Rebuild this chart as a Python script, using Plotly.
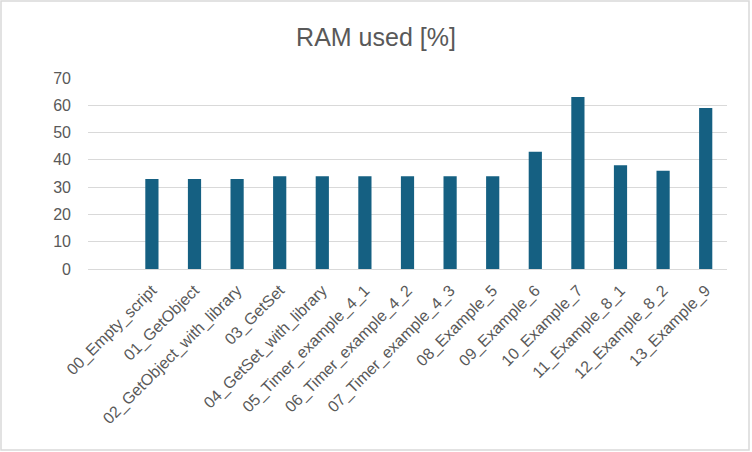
import plotly.graph_objects as go

categories = [
    "00_Empty_script", "01_GetObject", "02_GetObject_with_library", "03_GetSet",
    "04_GetSet_with_library", "05_Timer_example_4_1", "06_Timer_example_4_2",
    "07_Timer_example_4_3", "08_Example_5", "09_Example_6", "10_Example_7",
    "11_Example_8_1", "12_Example_8_2", "13_Example_9",
]
ram_used = [33, 33, 33, 34, 34, 34, 34, 34, 34, 43, 63, 38, 36, 59]
y_ticks = [0, 10, 20, 30, 40, 50, 60, 70]

grey = "#595959"
font_family = "Liberation Sans, Arial, sans-serif"

fig = go.Figure(
    go.Bar(x=categories, y=ram_used, marker_color="#156082", marker_line_width=0)
)

fig.update_layout(
    width=752,
    height=452,
    margin=dict(l=88, r=25, t=78, b=183),
    paper_bgcolor="white",
    plot_bgcolor="white",
    bargap=0.69,
    showlegend=False,
    title=dict(
        text="RAM used [%]",
        x=0.5,
        xanchor="center",
        y=1 - 37 / 452,
        yanchor="middle",
        font=dict(family=font_family, size=25, color=grey),
    ),
    font=dict(family=font_family, color=grey),
)

fig.update_xaxes(
    type="category",
    range=[-1.5, len(categories) - 0.5],
    tickangle=-45,
    tickfont=dict(size=16, color=grey),
    showgrid=False,
    showline=False,
    ticks="",
    fixedrange=True,
    automargin=False,
    ticklabelstandoff=8,
)
fig.update_yaxes(
    range=[0, 70],
    tickvals=y_ticks,
    tickfont=dict(size=16, color=grey),
    showgrid=True,
    gridcolor="#d9d9d9",
    gridwidth=1.3,
    zeroline=True,
    zerolinecolor="#d9d9d9",
    zerolinewidth=1.3,
    showline=False,
    ticks="",
    ticklabelstandoff=16,
    automargin=False,
    fixedrange=True,
)

# chart-area border
fig.add_shape(
    type="rect", xref="paper", yref="paper",
    x0=-87 / 639, x1=1 + 22 / 639,
    y0=-181 / 191, y1=1 + 77 / 191,
    line=dict(color="#d9d9d9", width=1.5),
    fillcolor="rgba(0,0,0,0)",
    layer="below",
)

fig.write_html(
    "out.html",
    config={"displayModeBar": False},
    post_script="document.body.style.margin='0';",
)
